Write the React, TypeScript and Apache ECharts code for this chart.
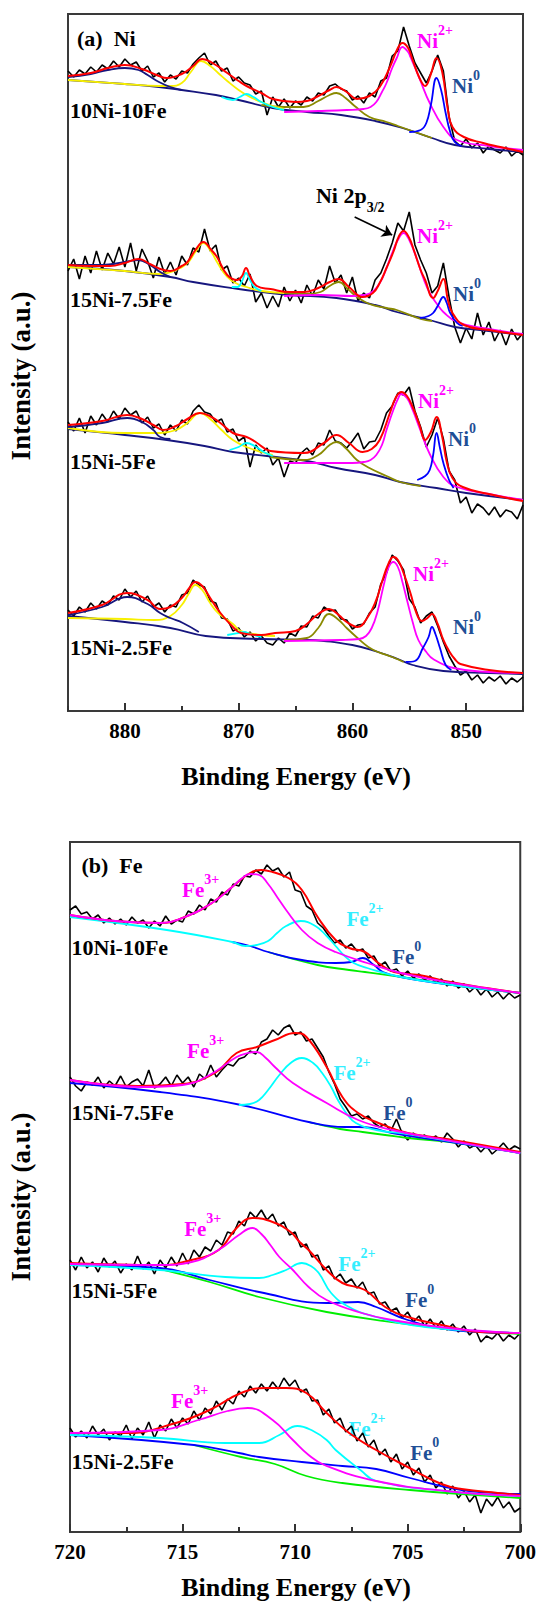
import React, { useEffect, useRef } from "react";
import * as echarts from "echarts";

const FONT = '"Times New Roman", "Liberation Serif", serif';

const SAMPLES = ["10Ni-10Fe", "15Ni-7.5Fe", "15Ni-5Fe", "15Ni-2.5Fe"];
const NI_TICKS = [850, 860, 870, 880];

// ---------- Ni 2p raw spectra (885 -> 845 eV, 0.5 eV steps) ----------
const NI_E0 = 885;
const NI_STEP = 0.5;
const NI_RAW_1 = [640,634,641,637,644,639,646,642,650,644,652,646,649,640,645,634,638,629,636,632,640,638,647,653,658,646,650,640,643,630,634,628,626,617,620,596,614,604,612,603,610,606,614,610,618,616,625,627,622,620,611,615,608,618,614,630,633,655,660,684,665,648,638,628,640,656,640,594,570,565,572,563,568,558,565,561,558,564,555,560,556];
const NI_RAW_2 = [440,452,432,455,438,460,441,458,447,464,444,468,440,462,450,433,454,437,449,436,455,446,463,459,482,460,466,441,445,428,433,425,437,409,418,403,415,404,424,410,421,408,426,415,431,422,445,428,436,418,434,410,418,413,431,438,452,468,488,480,499,466,451,438,418,425,448,414,384,368,383,372,398,376,389,370,381,366,382,371,378];
const NI_RAW_3 = [289,280,293,278,295,286,297,289,300,292,303,296,300,288,294,283,287,276,286,280,291,287,300,306,299,297,289,292,279,282,270,274,244,266,258,263,246,253,234,250,248,258,263,256,268,266,281,270,268,263,270,278,262,269,270,281,298,305,318,316,324,300,284,264,276,293,272,240,231,208,214,198,207,203,196,204,194,201,199,192,206];
const NI_RAW_4 = [101,95,104,99,108,102,110,106,115,111,122,114,120,109,115,104,108,99,106,104,116,118,131,126,124,110,108,93,92,80,83,74,79,70,75,68,66,73,68,78,75,85,84,95,93,104,100,101,92,91,82,86,87,98,104,127,138,156,150,141,112,104,88,95,99,85,69,55,45,36,40,31,36,28,34,30,35,27,33,29,34];

// ---------- Ni fit curves [eV, intensity] ----------
const NI_ENV_1 = [[885,635],[883,638],[881.5,643],[880,646],[878.5,642],[877,635],[876.3,633],[875,637],[874,645],[873.2,652],[872.3,648],[871,638],[870,630],[869.3,625],[868,618],[867,612],[865,609],[864,610],[863,615],[862,621],[861.4,624],[860.5,619],[859.6,612],[858.5,615],[857.6,624],[856.7,644],[856,663],[855.6,668],[855.1,663],[854.7,651],[854.1,633],[853.6,625],[853.1,637],[852.6,653],[852.1,639],[851.6,601],[851.2,584],[850.2,574],[848.5,568],[847,564],[845,559]];
const NI_BG_1 = [[885,631],[880,627],[877,624],[875,621],[872,616],[870,611],[867,603],[864,599],[861,596],[858,590],[855.6,583],[853,573],[851,566],[848,562],[845,559]];
const NI_SAT_1 = [[885,634],[883,637],[881.5,641],[880,643],[878.8,641],[878,636],[877,629],[876,624],[875,621]];
const NI_YEL_1 = [[885,631],[880,627],[877,625],[876,625],[875,628],[874.2,639],[873.3,650],[872.5,645],[871.8,638],[871,630],[870,621],[869,614],[868,609],[867,605],[866,602]];
const NI_CYAN_1 = [[871.5,614],[870.5,611],[869.9,614],[869.3,617],[868.7,614],[868,609],[867,604],[866,601]];
const NI_OLIVE_1 = [[868,606],[866,604],[864.3,604],[863,610],[862,616],[861.4,618],[860.6,613],[859.8,605],[858.5,594],[857,589],[856,585],[855,581],[854,577],[853,573]];
const NI_MAG_1 = [[866,599],[863,600],[860.5,601],[859,602],[858.4,604],[857.9,609],[857.4,619],[857,628],[856.5,643],[856.1,653],[855.6,664],[855.1,659],[854.9,654],[854.4,641],[854.05,631],[853.2,608],[852,584],[850.8,571],[848,565],[845,561]];
const NI_BLUE_1 = [[855,579],[854,581],[853.5,588],[853.1,606],[852.6,633],[852.2,621],[851.8,598],[851.4,579],[851,569],[850.4,565]];

const NI_ENV_2 = [[885,446],[883,445],[881.3,445],[880,448],[878.8,452],[877.8,447],[876.9,442],[876,440],[875,445],[874.5,449],[873.8,461],[873.1,469],[872.4,461],[871.9,454],[871,436],[870.1,431],[869.7,435],[869.35,443],[869,435],[868.4,425],[867.2,422],[865.5,419],[864.3,419],[863,423],[862,429],[861.2,432],[860.3,424],[859.1,414],[858.2,418],[857.6,428],[857,443],[856.4,459],[855.9,475],[855.5,480],[855,473],[854.6,461],[854,441],[853.6,431],[852.9,413],[852.5,420],[852,432],[851.6,411],[851.2,398],[850.2,386],[848,381],[845,376]];
const NI_BG_2 = [[885,444],[880,440],[876,434],[874,429],[870,422],[868,419],[865.5,416],[861.4,413],[858,406],[856.1,399],[853.2,391],[851,384],[848,380],[845,376]];
const NI_SAT_2 = [[885,446],[882,446],[880,449],[878.8,451],[877.8,446],[876.9,439],[876,434]];
const NI_YEL_2 = [[885,444],[880,440],[876.9,437],[875.5,441],[874.5,448],[873.8,459],[873.1,468],[872.4,459],[871.9,449],[871,434],[870.1,427],[869.3,424],[868,420],[866,418]];
const NI_CYAN_2 = [[870.6,424],[870.1,424],[869.7,430],[869.35,438],[869,431],[868.6,424],[868,420]];
const NI_OLIVE_2 = [[866,418],[864,417],[862.8,419],[862,425],[861.2,429],[860.4,422],[859.6,414],[858.5,407],[857,403],[856.1,401],[854,392],[853,390]];
const NI_MAG_2 = [[866,415],[862.8,416],[860,415],[859,416],[858.4,418],[857.9,423],[857.4,432],[857,443],[856.4,461],[856,471],[855.5,478],[855,471],[854.3,451],[853.8,434],[853.2,418],[852.5,406],[852,399],[850.8,389],[848,382],[845,377]];
const NI_BLUE_2 = [[854.05,393],[853.3,395],[852.9,398],[852.5,405],[852,414],[851.7,408],[851.4,398],[850.8,388],[850.3,385]];

const NI_ENV_3 = [[885,286],[882,290],[879.8,296],[878.5,292],[877.5,286],[876.6,281],[875.5,285],[874.5,292],[873.4,298],[872.4,294],[871.6,288],[870.5,278],[869.3,274],[868.5,269],[867.2,260],[864.3,258],[862.5,268],[861.4,276],[860.3,268],[859.1,259],[858.3,262],[857.6,271],[856.7,298],[856.2,313],[855.7,319],[855.2,315],[854.7,304],[854.1,286],[853.6,271],[853.1,279],[852.6,294],[852.1,274],[851.7,249],[851.2,233],[850.3,224],[848,217],[845,210]];
const NI_BG_3 = [[885,282],[880,276],[876.3,271],[873,265],[870.5,259],[867.5,255],[864,250],[861.4,243],[858,236],[855.8,229],[852.6,223],[850,218],[845,211]];
const NI_SAT_3 = [[885,284],[882,288],[879.8,293],[878.5,289],[877.5,281],[876.9,274],[876,272]];
const NI_YEL_3 = [[885,283],[880,278],[876.9,278],[875.5,281],[874.5,288],[873.4,298],[872.4,291],[871.5,281],[870.5,271],[869.3,264],[868,259],[867,256]];
const NI_CYAN_3 = [[870.8,261],[870,264],[869.3,268],[868.6,265],[867.8,259],[867,255]];
const NI_OLIVE_3 = [[867.2,254],[864.3,251],[863,256],[862,266],[861.4,269],[860.6,263],[859.6,251],[858.5,243],[857,235],[855.8,229],[854,225]];
const NI_MAG_3 = [[866,248],[863,248],[860,248],[859,249],[858.4,251],[857.9,256],[857.4,266],[857,281],[856.4,301],[856,312],[855.7,317],[855.2,313],[854.7,301],[854.1,283],[853.2,257],[852,234],[850.8,224],[848,217],[845,211]];
const NI_BLUE_3 = [[854.3,231],[853.6,235],[853.2,241],[852.9,256],[852.6,278],[852.3,263],[852,248],[851.5,231],[851.1,223]];

const NI_ENV_4 = [[885,98],[882,106],[879.8,118],[878,111],[876.9,102],[876,104],[875,113],[874.4,122],[873.8,129],[873.2,125],[872.5,113],[871.6,98],[870.5,84],[869.8,78],[868,76],[866.8,78],[865,80],[864,87],[863,97],[862.05,102],[861.2,96],[860.5,89],[859.55,84],[858.7,93],[857.9,111],[857.4,129],[856.8,148],[856.4,154],[856,151],[855.5,138],[854.9,118],[854.4,99],[853.9,90],[853.4,93],[853,97],[852.5,87],[852,71],[851.5,60],[851,52],[850.5,47],[848,41],[845,38]];
const NI_BG_4 = [[885,95],[880,89],[876,83],[872.9,75],[868,72],[863.8,71],[860,66],[857.75,59],[856,52],[854.7,46],[852,40],[848,38],[845,37]];
const NI_SAT_4 = [[885,96],[882,104],[879.8,114],[878,107],[876.9,98],[876,93],[874.9,88],[873.5,79]];
const NI_YEL_4 = [[885,93],[880,92],[877.4,91],[876,95],[875,106],[874.4,117],[873.8,126],[873.2,121],[872.5,108],[871.8,98],[870.5,87],[869.8,80],[868,76],[866.8,75]];
const NI_CYAN_4 = [[871,76],[870,78],[869.5,79],[869,77],[868,74]];
const NI_OLIVE_4 = [[866,71],[864,73],[863,83],[862.05,97],[861.2,91],[860.5,83],[859.55,73],[858.6,64],[857.75,59],[856.5,54],[855.5,49]];
const NI_MAG_4 = [[866,70],[861,71],[859.4,72],[858.8,75],[858.3,83],[857.8,99],[857.2,128],[856.8,144],[856.4,149],[856,144],[855.6,129],[855.2,111],[854.7,89],[854.2,71],[853.5,59],[852.9,52],[851.1,43],[848,39],[845,38]];
const NI_BLUE_4 = [[855.3,49],[854.5,50],[853.8,63],[853.3,74],[853,84],[852.7,77],[852.3,63],[851.8,46],[851.3,41]];

// ---------- Fe 2p raw spectra (720 -> 700 eV, 0.25 eV steps) ----------
const FE_E0 = 720;
const FE_STEP = 0.25;
const FE_RAW_1 = [622,626,618,620,613,617,609,614,608,613,607,615,609,612,604,611,606,616,608,612,610,621,618,627,622,633,630,640,637,648,646,656,655,662,658,667,661,664,655,660,642,640,626,622,609,604,596,589,592,584,588,581,583,574,576,566,570,561,563,556,561,554,558,552,556,549,553,546,551,544,548,540,545,537,543,535,540,533,539,534,537];
const FE_RAW_2 = [455,446,441,450,447,455,444,451,446,456,445,450,453,446,462,444,448,455,446,457,449,455,445,458,453,467,455,462,468,466,473,475,481,478,490,493,502,497,504,507,497,500,491,493,484,475,460,448,433,425,416,418,413,416,409,405,408,401,413,399,392,399,394,397,392,396,390,399,393,385,391,384,387,380,386,378,383,389,382,386,383];
const FE_RAW_3 = [272,262,275,264,270,260,274,265,271,259,268,262,276,263,270,258,272,264,275,266,279,268,282,275,285,281,292,287,300,298,311,306,320,314,322,312,318,306,310,297,300,285,288,275,277,262,266,253,258,249,253,244,250,238,240,228,230,221,224,214,220,210,216,206,213,204,211,202,208,200,206,197,203,190,196,193,199,191,197,193,199];
const FE_RAW_4 = [104,95,101,94,106,97,103,92,100,96,107,93,104,97,110,94,107,101,113,104,114,108,121,112,124,118,131,122,133,128,141,135,146,139,148,141,150,143,154,146,152,140,143,131,132,117,123,109,114,100,106,91,99,85,92,77,83,70,78,63,70,57,64,50,57,44,50,38,46,34,41,30,37,19,33,26,35,24,30,20,24];

// ---------- Fe fit curves [eV, intensity] ----------
const FE_ENV_1 = [[720,617],[718,611],[716,609],[714.9,615],[713.7,629],[712.8,645],[712,659],[711.5,662],[711,660],[710.3,654],[709.7,642],[709,615],[708.2,592],[707.6,584],[706.9,580],[706.3,569],[705.6,560],[704.5,557],[703.1,550],[701.5,544],[700,539]];
const FE_MAG_1 = [[720,617],[718,611],[716,609],[714.9,615],[713.7,629],[712.8,645],[712.4,653],[712,658],[711.6,657],[711.2,648],[710.8,635],[710.4,622],[709.7,602],[709,589],[708.2,580],[706.8,569],[705.3,559],[703,549],[700,539]];
const FE_CYAN_1 = [[720,615],[715.7,602],[712.8,590],[712.2,586],[711.7,587],[711.2,591],[710.8,599],[710.4,606],[709.75,611],[709.1,606],[708.6,596],[708.2,586],[707.8,576],[707.4,569],[706.8,564],[705.3,555],[703,547],[700,539]];
const FE_BLUE_1 = [[712.8,590],[712,586],[711.2,580],[709.7,572],[708.2,569],[707.5,570],[707,574],[706.5,567],[706.1,560],[705.3,555],[703,547],[700,539]];
const FE_GREEN_1 = [[711.2,580],[709,567],[707.6,562],[706.9,560],[705,554],[703,547],[700,539]];

const FE_ENV_2 = [[720,452],[717,446],[715,448],[713.5,460],[712.6,479],[711.7,485],[710.9,492],[710,499],[709.5,495],[708.6,465],[707.9,435],[707.2,419],[706.3,409],[705,399],[703,392],[700,380]];
const FE_MAG_2 = [[720,452],[716.8,445],[715,447],[713.8,457],[712.6,475],[712.1,479],[711.7,480],[711.3,474],[710.9,465],[710.1,449],[708.6,429],[707.2,412],[705.7,402],[702.8,390],[700,379]];
const FE_CYAN_2 = [[712.5,427],[712,428],[711.6,432],[711.2,442],[710.7,457],[710.2,469],[709.7,474],[709.2,469],[708.8,459],[708.4,445],[708.1,432],[707.7,418],[707.3,409],[706.4,402],[705,398],[700,379]];
const FE_BLUE_2 = [[720,449],[716,440],[712.4,427],[709.4,410],[707.8,405],[707.2,405],[706.6,404],[705.7,399],[702.8,389],[700,379]];
const FE_GREEN_2 = [[709.4,410],[708,403],[707,400],[706,397],[705,394],[702.8,389],[700,379]];

const FE_ENV_3 = [[720,269],[716,267],[714.6,272],[713.4,282],[712.6,304],[711.9,314],[711,310],[710.2,300],[709.8,290],[709.4,282],[708.6,262],[707.9,249],[706.9,242],[706,225],[705,215],[703.5,207],[701.8,200],[700,199]];
const FE_MAG_3 = [[720,268],[716,267],[714.6,270],[713.4,282],[712.5,297],[711.9,304],[711.5,298],[711.1,287],[710.7,275],[710.1,262],[709.4,245],[708.6,232],[707.2,220],[705.7,212],[702.8,203],[700,199]];
const FE_CYAN_3 = [[720,267],[716,262],[713.1,255],[711.6,254],[711,257],[710.4,262],[709.7,269],[709.3,266],[708.95,259],[708.4,239],[707.6,225],[706.4,215],[704.2,205],[700,199]];
const FE_BLUE_3 = [[720,267],[716,264],[713.8,252],[711.6,240],[708.6,229],[707.2,230],[706.4,225],[705,212],[703,202],[700,199]];
const FE_GREEN_3 = [[716,263],[713.8,250],[711.6,235],[708.6,220],[705.7,210],[702.8,202],[700,198]];

const FE_ENV_4 = [[720,99],[717.5,99],[715.3,109],[713.8,122],[712.4,139],[711.3,144],[710.4,144],[709.5,139],[708.6,119],[707.6,99],[706.4,82],[705,65],[703.5,48],[702.6,43],[701,39],[700,37]];
const FE_MAG_4 = [[720,99],[716,102],[714.3,112],[713,121],[712.1,124],[711,112],[710.1,92],[709.4,77],[708.7,67],[706.4,51],[703.3,41],[700,36]];
const FE_CYAN_4 = [[720,97],[716,94],[713.1,89],[711.6,89],[710.7,97],[709.9,106],[709.2,101],[708.6,92],[708.2,82],[707.1,62],[706.4,51],[703.3,41],[700,36]];
const FE_BLUE_4 = [[720,97],[714.5,87],[712.5,79],[711.6,75],[709.7,70],[707.9,66],[706.4,63],[704.9,54],[702.6,42],[700,38]];
const FE_GREEN_4 = [[714.5,87],[712.4,75],[710.9,68],[709.5,56],[707.9,49],[704.9,42],[700,34]];

// ---------- annotation anchors [eV, intensity] ----------
const NI_SAMPLE_AT = [[884.82,601],[884.82,412],[884.82,250],[884.82,64]];
const NI2_AT = [[854.32,671],[854.32,476],[854.23,311],[854.67,138]];
const NI0_AT = [[851.24,626],[851.15,418],[851.59,273],[851.15,85]];
const NI_2P_AT = [863.2, 512];
const NI_ARROW = [[859.8,494],[856.5,476]];
const FE_SAMPLE_AT = [[719.93,585],[719.93,420],[719.93,242],[719.93,71]];
const FE3_AT = [[715.02,643],[714.8,482],[714.93,304],[715.51,132]];
const FE2_AT = [[707.72,614],[708.3,460],[708.08,269],[707.63,104]];
const FE0_AT = [[705.69,576],[706.08,420],[705.11,233],[704.89,80]];

const C = {
  black: "#000000", red: "#ff0000", navy: "#16167e", olive: "#8a8a00", yellow: "#f8f000",
  cyan: "#00ffff", magenta: "#ff00ff", blue: "#0000ff", green: "#00ee00", ion0: "#1f4f96", ion2fe: "#33eeff",
};

function grid(e0: number, step: number, vals: number[]) {
  return vals.map((v, k) => [e0 - k * step, v]);
}

function line(data: any, color: string, width: number, xi: number, yi: number, smooth: number | boolean) {
  return {
    type: "line", data, xAxisIndex: xi, yAxisIndex: yi, symbol: "none", showSymbol: false,
    smooth, silent: true, animation: false,
    lineStyle: { color, width }, itemStyle: { color },
  };
}

function buildOption() {
  const niSets = [
    [NI_RAW_1, NI_BG_1, NI_OLIVE_1, NI_YEL_1, NI_CYAN_1, NI_SAT_1, NI_MAG_1, NI_BLUE_1, NI_ENV_1],
    [NI_RAW_2, NI_BG_2, NI_OLIVE_2, NI_YEL_2, NI_CYAN_2, NI_SAT_2, NI_MAG_2, NI_BLUE_2, NI_ENV_2],
    [NI_RAW_3, NI_BG_3, NI_OLIVE_3, NI_YEL_3, NI_CYAN_3, NI_SAT_3, NI_MAG_3, NI_BLUE_3, NI_ENV_3],
    [NI_RAW_4, NI_BG_4, NI_OLIVE_4, NI_YEL_4, NI_CYAN_4, NI_SAT_4, NI_MAG_4, NI_BLUE_4, NI_ENV_4],
  ];
  const feSets = [
    [FE_RAW_1, FE_GREEN_1, FE_BLUE_1, FE_CYAN_1, FE_ENV_1, FE_MAG_1],
    [FE_RAW_2, FE_GREEN_2, FE_BLUE_2, FE_CYAN_2, FE_ENV_2, FE_MAG_2],
    [FE_RAW_3, FE_GREEN_3, FE_BLUE_3, FE_CYAN_3, FE_ENV_3, FE_MAG_3],
    [FE_RAW_4, FE_GREEN_4, FE_BLUE_4, FE_CYAN_4, FE_ENV_4, FE_MAG_4],
  ];
  const series: any[] = [];
  const sm = 0.45;
  niSets.forEach((s: any) => {
    series.push(line(grid(NI_E0, NI_STEP, s[0]), C.black, 1.6, 0, 0, false));
    series.push(line(s[1], C.navy, 1.8, 0, 0, sm));
    series.push(line(s[2], C.olive, 1.8, 0, 0, sm));
    series.push(line(s[3], C.yellow, 1.8, 0, 0, sm));
    series.push(line(s[4], C.cyan, 1.8, 0, 0, sm));
    series.push(line(s[5], C.navy, 1.8, 0, 0, sm));
    series.push(line(s[6], C.magenta, 1.8, 0, 0, sm));
    series.push(line(s[7], C.blue, 1.8, 0, 0, sm));
    series.push(line(s[8], C.red, 2, 0, 0, sm));
  });
  feSets.forEach((s: any) => {
    series.push(line(grid(FE_E0, FE_STEP, s[0]), C.black, 1.6, 2, 1, false));
    series.push(line(s[1], C.green, 1.8, 2, 1, sm));
    series.push(line(s[2], C.blue, 1.8, 2, 1, sm));
    series.push(line(s[3], C.cyan, 1.8, 2, 1, sm));
    series.push(line(s[4], C.red, 2, 2, 1, sm));
    series.push(line(s[5], C.magenta, 1.8, 2, 1, sm));
  });
  series.push({
    type: "lines", coordinateSystem: "cartesian2d", xAxisIndex: 0, yAxisIndex: 0, silent: true,
    symbol: ["none", "arrow"], symbolSize: 10,
    lineStyle: { color: "#000", width: 1.6, opacity: 1 },
    data: [{ coords: NI_ARROW }],
  });

  const tickStyle = { color: "#333", width: 2 };
  const labelStyle = { fontSize: 21, fontWeight: "bold", fontFamily: FONT, color: "#000", margin: 9 };
  const gridBox = { show: true, borderColor: "#3a3a3a", borderWidth: 2, backgroundColor: "transparent" };

  return {
    animation: false,
    backgroundColor: "#ffffff",
    grid: [
      { left: 68, top: 14, width: 455, height: 697, ...gridBox },
      { left: 70, top: 842, width: 452, height: 690, ...gridBox },
      { left: 68, top: 14, width: 455, height: 697, show: false },
    ],
    xAxis: [
      {
        gridIndex: 0, type: "value", min: 845, max: 885, interval: 5, inverse: true,
        axisLine: { show: false }, splitLine: { show: false },
        axisTick: { inside: true, length: 8, lineStyle: tickStyle, customValues: NI_TICKS },
        axisLabel: { ...labelStyle, customValues: NI_TICKS, formatter: (v: number) => (v % 10 === 0 ? String(v) : "") },
      },
      {
        gridIndex: 2, type: "value", min: 845, max: 885, interval: 10, inverse: true,
        axisLine: { show: false }, splitLine: { show: false }, axisLabel: { show: false },
        axisTick: { inside: true, length: 5, lineStyle: tickStyle },
      },
      {
        gridIndex: 1, type: "value", min: 700, max: 720, interval: 5, inverse: true,
        axisLine: { show: false }, splitLine: { show: false },
        axisTick: { inside: true, length: 8, lineStyle: tickStyle },
        minorTick: { show: true, splitNumber: 2, length: 5, lineStyle: tickStyle },
        axisLabel: { ...labelStyle },
      },
    ],
    yAxis: [
      { gridIndex: 0, type: "value", min: 0, max: 697, show: false },
      { gridIndex: 1, type: "value", min: 0, max: 690, show: false },
      { gridIndex: 2, type: "value", min: 0, max: 697, show: false },
    ],
    series,
  };
}

function txt(x: number, y: number, text: string, size: number, color = "#000", align = "left", extra: any = {}) {
  return {
    type: "text", x, y, silent: true, ...extra,
    style: {
      text, font: `bold ${size}px ${FONT}`, fill: color,
      align, verticalAlign: "middle", textAlign: align, textVerticalAlign: "middle",
    },
  };
}

function ion(x: number, y: number, main: string, sup: string, color: string) {
  return {
    type: "text", x, y, silent: true,
    style: {
      text: `{m|${main}}{s|${sup}}`,
      align: "left", verticalAlign: "middle", textAlign: "left", textVerticalAlign: "middle",
      rich: {
        m: { font: `bold 21px ${FONT}`, fill: color, lineHeight: 28, verticalAlign: "bottom" },
        s: { font: `bold 14px ${FONT}`, fill: color, lineHeight: 12, verticalAlign: "top" },
      },
    },
  };
}

function buildGraphics(chart: any) {
  const pa = (p: number[]) => chart.convertToPixel({ gridIndex: 0 }, p);
  const pb = (p: number[]) => chart.convertToPixel({ gridIndex: 1 }, p);
  const g: any[] = [];
  const a = pa([884.21, 673]);
  g.push(txt(a[0], a[1], "(a)  Ni", 22));
  const b = pb([719.49, 667]);
  g.push(txt(b[0], b[1], "(b)  Fe", 22));
  SAMPLES.forEach((name, k) => {
    const p = pa(NI_SAMPLE_AT[k]);
    g.push(txt(p[0], p[1], name, 22));
    const q = pb(FE_SAMPLE_AT[k]);
    g.push(txt(q[0], q[1], name, 22));
    const n2 = pa(NI2_AT[k]);
    g.push(ion(n2[0], n2[1] - 3, "Ni", "2+", C.magenta));
    const n0 = pa(NI0_AT[k]);
    g.push(ion(n0[0], n0[1] - 3, "Ni", "0", C.ion0));
    const f3 = pb(FE3_AT[k]);
    g.push(ion(f3[0], f3[1] - 3, "Fe", "3+", C.magenta));
    const f2 = pb(FE2_AT[k]);
    g.push(ion(f2[0], f2[1] - 3, "Fe", "2+", C.ion2fe));
    const f0 = pb(FE0_AT[k]);
    g.push(ion(f0[0], f0[1] - 3, "Fe", "0", C.ion0));
  });
  const np = pa(NI_2P_AT);
  g.push({
    type: "text", x: np[0], y: np[1], silent: true,
    style: {
      text: "{m|Ni 2p}{s|3/2}",
      align: "left", verticalAlign: "middle", textAlign: "left", textVerticalAlign: "middle",
      rich: {
        m: { font: `bold 22px ${FONT}`, fill: "#000", lineHeight: 30, verticalAlign: "top" },
        s: { font: `bold 14px ${FONT}`, fill: "#000", lineHeight: 12, verticalAlign: "bottom" },
      },
    },
  });
  g.push(txt(296, 776, "Binding Energy (eV)", 26, "#000", "center"));
  g.push(txt(296, 1587, "Binding Energy (eV)", 26, "#000", "center"));
  g.push(txt(21, 376, "Intensity (a.u.)", 27, "#000", "center", { rotation: Math.PI / 2 }));
  g.push(txt(21, 1197, "Intensity (a.u.)", 27, "#000", "center", { rotation: Math.PI / 2 }));
  return g;
}

export default function App() {
  const ref = useRef<HTMLDivElement>(null);
  useEffect(() => {
    document.body.style.margin = "0";
    const chart = echarts.init(ref.current as HTMLDivElement, null, { renderer: "svg" });
    chart.setOption(buildOption() as any);
    chart.setOption({ graphic: buildGraphics(chart) } as any);
    return () => chart.dispose();
  }, []);
  return <div ref={ref} style={{ position: "absolute", left: 0, top: 0, width: 539, height: 1603 }} />;
}
